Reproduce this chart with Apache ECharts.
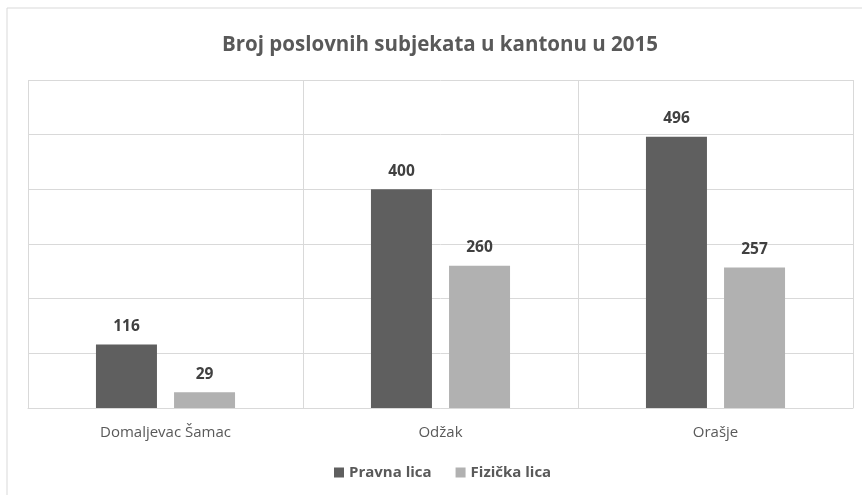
<!DOCTYPE html>
<html>
<head>
<meta charset="utf-8">
<script src="https://cdn.jsdelivr.net/npm/echarts@6/dist/echarts.min.js"></script>
<style>
  html, body { margin: 0; padding: 0; background: #fff; }
  #bar { width: 862px; height: 495px; }
</style>
</head>
<body>
<div id="bar"></div>
<script>
// podaci
var categories = ['Domaljevac Šamac', 'Odžak', 'Orašje'];
var pravnaLica = [116, 400, 496];
var fizickaLica = [29, 260, 257];
var seriesNames = ['Pravna lica', 'Fizička lica'];

var myChart = echarts.init(document.getElementById('bar'));

var font = '"Open Sans", sans-serif';

var barOption = {
    animation: false,
    textStyle: { fontFamily: font },
    title: {
        text: 'Broj poslovnih subjekata u kantonu u 2015',
        left: 217,
        top: 30,
        textStyle: { fontFamily: font, fontSize: 20.5, fontWeight: 'bold', color: '#595959' }
    },
    graphic: [{
        type: 'rect',
        shape: { x: 7, y: 8, width: 900, height: 600 },
        style: { fill: 'none', stroke: '#d9d9d9', lineWidth: 1 },
        silent: true
    }],
    legend: {
        data: seriesNames,
        bottom: 10,
        left: 329,
        icon: 'rect',
        itemWidth: 10,
        itemHeight: 10,
        itemGap: 24,
        textStyle: { fontFamily: font, fontSize: 15, fontWeight: 'bold', color: '#595959' }
    },
    grid: { left: 28, right: 9, top: 80, bottom: 87 },
    xAxis: {
        type: 'category',
        data: categories,
        axisTick: { show: false },
        axisLine: { lineStyle: { color: '#d9d9d9' } },
        splitLine: { show: true, lineStyle: { color: '#d9d9d9' } },
        axisLabel: { fontFamily: font, fontSize: 15, color: '#595959', margin: 17 }
    },
    yAxis: {
        type: 'value',
        min: 0,
        max: 600,
        interval: 100,
        axisLabel: { show: false },
        axisLine: { show: false },
        axisTick: { show: false },
        splitLine: { lineStyle: { color: '#d9d9d9' } }
    },
    series: [
        {
            name: seriesNames[0],
            type: 'bar',
            data: pravnaLica,
            barWidth: 61,
            barGap: '28%',
            itemStyle: { color: '#5f5f5f' },
            label: { show: true, position: 'top', distance: 10, fontFamily: font, fontSize: 15.5, fontWeight: 'bold', color: '#404040' }
        },
        {
            name: seriesNames[1],
            type: 'bar',
            data: fizickaLica,
            barWidth: 61,
            itemStyle: { color: '#b1b1b1' },
            label: { show: true, position: 'top', distance: 10, fontFamily: font, fontSize: 15.5, fontWeight: 'bold', color: '#404040' }
        }
    ]
};
myChart.setOption(barOption);
</script>
</body>
</html>
